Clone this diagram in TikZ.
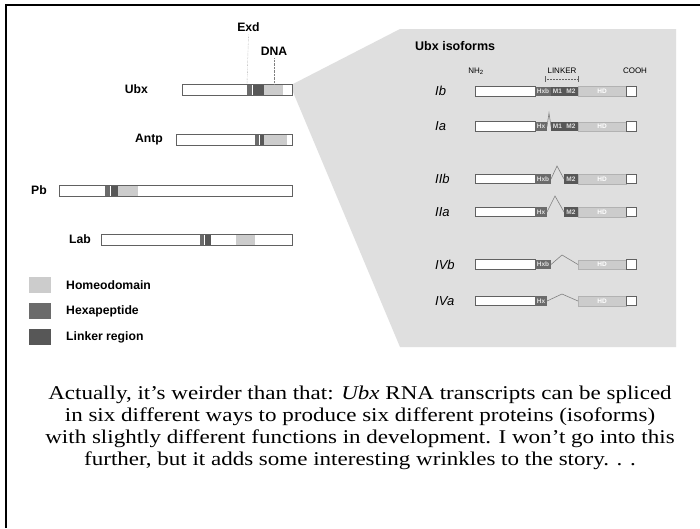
\documentclass[tikz,border=0pt]{standalone}
\usepackage{fontspec}
\setmainfont{Liberation Serif}
\setsansfont{Liberation Sans}
\newfontfamily\capfont[FakeStretch=1.18]{Liberation Serif}
\usetikzlibrary{positioning}

\definecolor{hdgray}{gray}{0.80}
\definecolor{hexgray}{gray}{0.42}
\definecolor{linkgray}{gray}{0.34}
\definecolor{panelgray}{gray}{0.875}
\definecolor{edgegray}{gray}{0.38}

\tikzset{
  lab/.style={font=\sffamily\bfseries\fontsize{12.2}{14}\selectfont, inner sep=0pt},
  iso/.style={font=\sffamily\itshape\fontsize{13}{15}\selectfont, inner sep=0pt},
  tiny/.style={font=\sffamily\fontsize{8}{9}\selectfont, inner sep=0pt},
  tag/.style={font=\sffamily\bfseries\fontsize{6.5}{7}\selectfont, text=gray!25, inner sep=0pt},
  outline/.style={draw=edgegray, line width=0.9},
  splice/.style={draw=gray, line width=0.6},
}

\begin{document}
\begin{tikzpicture}[x=1pt,y=-1pt]
\useasboundingbox (0,0) rectangle (700,528);
\fill[white] (0,0) rectangle (700,528);
\draw[line width=2] (6.2,528) -- (6.2,4.9) -- (700,4.9);

% zoom wedge and isoform panel
\fill[panelgray] (293,84) -- (400,29) -- (676,29) -- (676,347) -- (400,347) -- (293,92) -- cycle;

% homeotic proteins: name/label x/y/start/hex start/hex end/link end/hd start/hd end
\foreach \nm/\lx/\yy/\xs/\ha/\hb/\lc/\da/\db in {
  Ubx/148/84/182/247/252/264/264/283,
  Antp/163/134/176/255/259/264/264/287,
  Pb/47/185/59/105/110/118/118/138,
  Lab/91/234/101/200/204/211/236/255}{
  \fill[white] (\xs,\yy) rectangle (292,\yy+11);
  \fill[hdgray] (\da,\yy) rectangle (\db,\yy+11);
  \fill[hexgray] (\ha,\yy) rectangle (\hb,\yy+11);
  \fill[linkgray] (\hb+0.8,\yy) rectangle (\lc,\yy+11);
  \draw[outline] (\xs,\yy) rectangle (292,\yy+11);
  \node[lab, anchor=east] (\nm) at (\lx,\yy+5.5) {\nm};
}

\node[lab] (exd) at (248.5,27) {Exd};
\node[lab] (dna) at (274,51) {DNA};
\coordinate (exdfoot) at (247,84);
\coordinate (dnafoot) at (274,84);
\draw[densely dotted, gray] (exd.south) ++(0,3) -- (exdfoot);
\draw[densely dotted, gray] (dna.south) ++(0,3) -- (dnafoot);

% legend
\foreach \txt/\col [count=\k] in {Homeodomain/hdgray, Hexapeptide/hexgray, Linker region/linkgray}{
  \fill[\col] (29,251+26*\k) rectangle (51,267+26*\k);
  \node[lab, anchor=west] (key\k) at (66,259+26*\k) {\txt};
}

% isoforms
\node[lab, anchor=west, font=\sffamily\bfseries\fontsize{12.5}{14}\selectfont] (title) at (415,46) {Ubx isoforms};
\node[tiny] (nh) at (476,71) {NH\textsubscript{2}};
\node[tiny] (linker) at (562,71) {LINKER};
\node[tiny] (cooh) at (635,71) {COOH};
\coordinate (lka) at (545,79);
\coordinate (lkb) at (578,79);
\draw[densely dotted, edgegray, line width=0.5, |-|] (lka) -- (lkb);

\foreach \nm/\yy/\hx/\tg in {Ib/91.3/551/Hxb, Ia/126.5/547/Hx, IIb/179/551/Hxb,
  IIa/212/547/Hx, IVb/264.5/551/Hxb, IVa/301/547/Hx}{
  \node[iso, anchor=west] (\nm) at (435,\yy) {\nm};
  \fill[hdgray] (578,\yy-4.7) rectangle (626,\yy+4.7);
  \draw[draw=gray!60, line width=0.4] (578,\yy-4.7) rectangle (626,\yy+4.7);
  \node[tag, text=white] at (602,\yy) {HD};
  \draw[outline, fill=white] (475,\yy-4.7) rectangle (535,\yy+4.7);
  \draw[outline, fill=white] (626,\yy-4.7) rectangle (636,\yy+4.7);
  \fill[hexgray] (535,\yy-4.7) rectangle (\hx,\yy+4.7);
  \node[tag] at ({(535+\hx)/2},\yy) {\tg};
}

% linker exons per isoform
\foreach \yy in {91.3,126.5}{
  \fill[linkgray] (551,\yy-4.7) rectangle (578,\yy+4.7);
  \node[tag] at (557.5,\yy) {M1};
  \node[tag] at (571,\yy) {M2};
}
\foreach \yy in {179,212}{
  \fill[linkgray] (564,\yy-4.7) rectangle (578,\yy+4.7);
  \node[tag] at (571,\yy) {M2};
}
\draw[splice] (547,126.5) -- (549,113) -- (551,126.5);
\draw[splice] (551,179) -- (557,166) -- (564,179);
\draw[splice] (547,212) -- (555,196) -- (564,212);
\draw[splice] (551,264.5) -- (562,255) -- (578,264.5);
\draw[splice] (547,301) -- (562,294) -- (578,301);

% caption
\node[align=center, font=\capfont\fontsize{19.5}{22.2}\selectfont] (caption) at (360,428) {
  Actually, it’s weirder than that: \textit{Ubx} RNA transcripts can be spliced\\
  in six different ways to produce six different proteins (isoforms)\\
  with slightly different functions in development. I won’t go into this\\
  further, but it adds some interesting wrinkles to the story. . .};
\end{tikzpicture}
\end{document}
